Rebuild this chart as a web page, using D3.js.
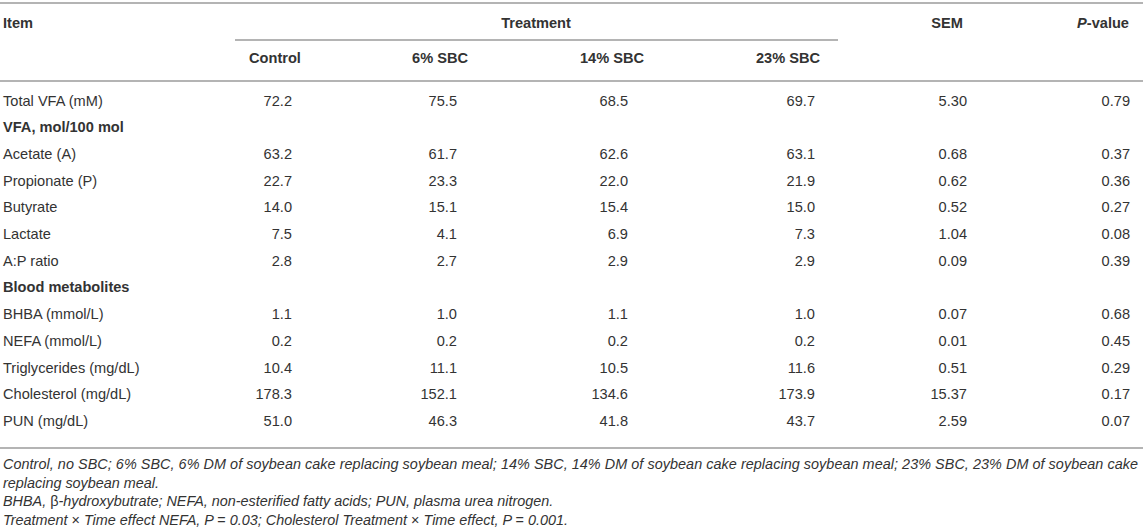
<!DOCTYPE html>
<html><head><meta charset="utf-8">
<script src="https://cdn.jsdelivr.net/npm/d3@7/dist/d3.min.js"></script>
<style>
html,body{margin:0;padding:0;background:#fff;}
svg{display:block;font-family:"Liberation Sans",Arial,Helvetica,sans-serif;}
</style></head>
<body><svg id="c" width="1143" height="529"></svg>
<script>
const items = ["Total VFA (mM)","VFA, mol/100 mol","Acetate (A)","Propionate (P)","Butyrate","Lactate","A:P ratio","Blood metabolites","BHBA (mmol/L)","NEFA (mmol/L)","Triglycerides (mg/dL)","Cholesterol (mg/dL)","PUN (mg/dL)"];
const sectionRow = [false,true,false,false,false,false,false,true,false,false,false,false,false];
const treatments = ["Control","6% SBC","14% SBC","23% SBC"];
const control = [72.2,null,63.2,22.7,14.0,7.5,2.8,null,1.1,0.2,10.4,178.3,51.0];
const sbc6    = [75.5,null,61.7,23.3,15.1,4.1,2.7,null,1.0,0.2,11.1,152.1,46.3];
const sbc14   = [68.5,null,62.6,22.0,15.4,6.9,2.9,null,1.1,0.2,10.5,134.6,41.8];
const sbc23   = [69.7,null,63.1,21.9,15.0,7.3,2.9,null,1.0,0.2,11.6,173.9,43.7];
const sem     = [5.30,null,0.68,0.62,0.52,1.04,0.09,null,0.07,0.01,0.51,15.37,2.59];
const pvalue  = [0.79,null,0.37,0.36,0.27,0.08,0.39,null,0.68,0.45,0.29,0.17,0.07];
const footnotes = [
  "Control, no SBC; 6% SBC, 6% DM of soybean cake replacing soybean meal; 14% SBC, 14% DM of soybean cake replacing soybean meal; 23% SBC, 23% DM of soybean cake",
  "replacing soybean meal.",
  "BHBA, \u03b2-hydroxybutrate; NEFA, non-esterified fatty acids; PUN, plasma urea nitrogen.",
  "Treatment \u00d7 Time effect NEFA, P = 0.03; Cholesterol Treatment \u00d7 Time effect, P = 0.001."
];

const W = 1143, H = 529;
const TXT = "#333333", RULE = "#b4b4b4";
const svg = d3.select("#c");

const cols = [
  {key:"Control", vals:control, dec:1},
  {key:"6% SBC", vals:sbc6, dec:1},
  {key:"14% SBC", vals:sbc14, dec:1},
  {key:"23% SBC", vals:sbc23, dec:1},
  {key:"SEM", vals:sem, dec:2},
  {key:"P-value", vals:pvalue, dec:2}
];
const xRight = d3.scaleOrdinal().domain(cols.map(c=>c.key)).range([292,457,628,815,967,1130]);
const xHead  = d3.scaleOrdinal().domain(cols.map(c=>c.key)).range([275,440,612,788,947,1129]);
const y = d3.scaleLinear().domain([0, items.length-1]).range([105.5, 426]);

const fs = 14.6;
const rule = (x1,x2,yy)=>svg.append("line").attr("x1",x1).attr("x2",x2).attr("y1",yy).attr("y2",yy)
  .attr("stroke",RULE).attr("stroke-width",2);
rule(0,W,3);
rule(235,838,40);
rule(0,W,81);
rule(0,W,448);

svg.append("text").attr("x",3).attr("y",28).attr("font-size",fs).attr("font-weight","bold").attr("fill",TXT).text("Item");
svg.append("text").attr("x",536).attr("y",28).attr("text-anchor","middle").attr("font-size",fs).attr("font-weight","bold").attr("fill",TXT).text("Treatment");
svg.append("text").attr("x",xHead("SEM")).attr("y",28).attr("text-anchor","middle").attr("font-size",fs).attr("font-weight","bold").attr("fill",TXT).text("SEM");
const pv = svg.append("text").attr("x",xHead("P-value")).attr("y",28).attr("text-anchor","end").attr("font-size",fs).attr("font-weight","bold").attr("fill",TXT);
pv.append("tspan").attr("font-style","italic").text("P");
pv.append("tspan").text("-value");
svg.selectAll("text.th2").data(treatments).join("text").attr("class","th2")
  .attr("x",d=>xHead(d)).attr("y",63).attr("text-anchor","middle")
  .attr("font-size",fs).attr("font-weight","bold").attr("fill",TXT).text(d=>d);

svg.selectAll("text.item").data(items).join("text").attr("class","item")
  .attr("x",3).attr("y",(d,i)=>y(i)).attr("font-size",fs)
  .attr("font-weight",(d,i)=>sectionRow[i]?"bold":"normal").attr("fill",TXT).text(d=>d);

cols.forEach(c=>{
  svg.selectAll(null).data(c.vals.map((v,i)=>({v,i})).filter(d=>d.v!==null)).join("text")
    .attr("x",xRight(c.key)).attr("y",d=>y(d.i)).attr("text-anchor","end")
    .attr("font-size",fs).attr("fill",TXT).text(d=>d.v.toFixed(c.dec));
});

const fy = d3.scaleLinear().domain([0,3]).range([469,524.5]);
const fn = svg.selectAll("text.fn").data(footnotes).join("text").attr("class","fn")
  .attr("x",3).attr("y",(d,i)=>fy(i)).attr("font-size",14.4).attr("font-style","italic").attr("fill",TXT);
fn.each(function(d,i){
  const t = d3.select(this);
  if(i===0){ t.text(d).attr("textLength",1135).attr("lengthAdjust","spacing"); }
  else if(i===2){
    const parts = d.split("\u03b2");
    t.append("tspan").text(parts[0]);
    t.append("tspan").attr("font-style","normal").text("\u03b2");
    t.append("tspan").text(parts[1]);
  } else if(i===3){
    const tokens = d.split(/(\u00d7|=)/);
    tokens.forEach(tok=>{
      t.append("tspan").attr("font-style",(tok==="\u00d7"||tok==="=")?"normal":"italic").text(tok);
    });
  } else t.text(d);
});
</script></body></html>
